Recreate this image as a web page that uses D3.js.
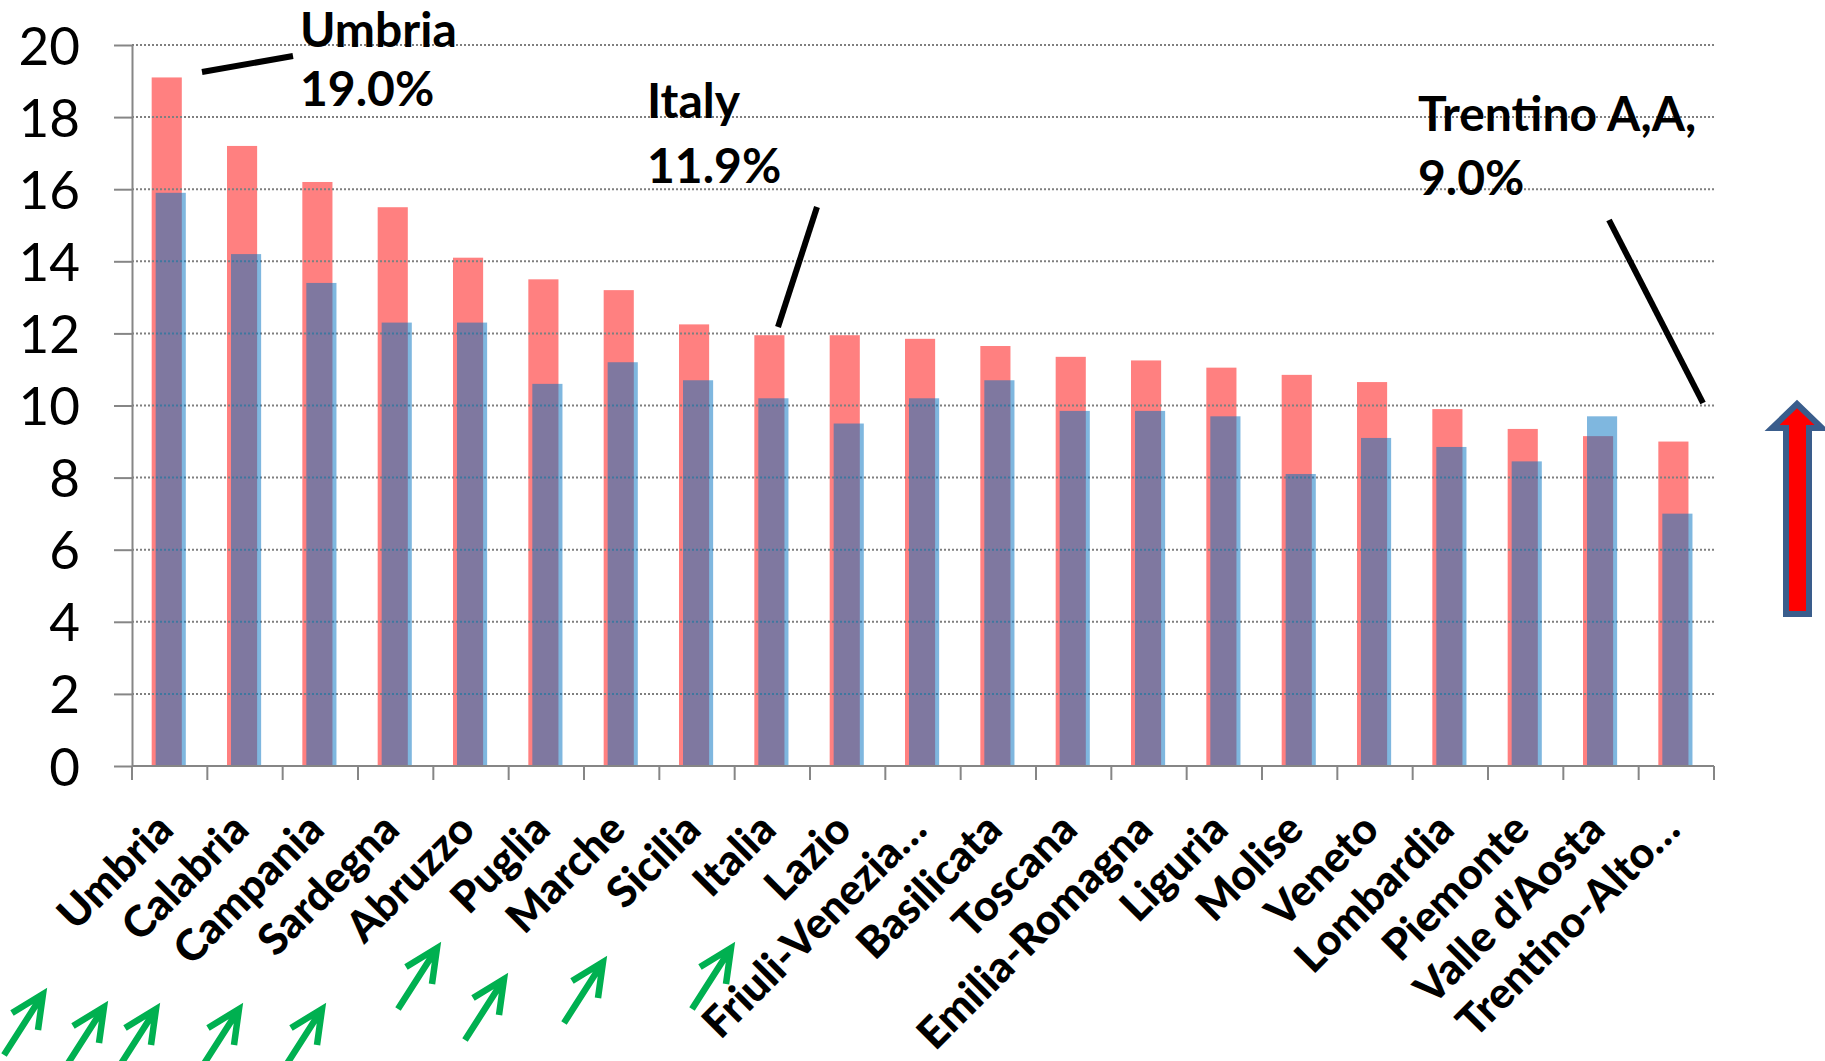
<!DOCTYPE html>
<html>
<head>
<meta charset="utf-8">
<script src="https://cdn.jsdelivr.net/npm/d3@7"></script>
<style>
  body { margin: 0; background: #fff; }
  #graf text { font-family: Lato, "Open Sans", sans-serif; }
</style>
</head>
<body>
<div id="graf"></div>
<script>
// Regiones (eje x)
const regiones = ["Umbria", "Calabria", "Campania", "Sardegna", "Abruzzo", "Puglia", "Marche", "Sicilia", "Italia", "Lazio", "Friuli-Venezia…", "Basilicata", "Toscana", "Emilia-Romagna", "Liguria", "Molise", "Veneto", "Lombardia", "Piemonte", "Valle d'Aosta", "Trentino-Alto…"]

// Serie roja (detrás)
const serieRoja = [19.1, 17.2, 16.2, 15.5, 14.1, 13.5, 13.2, 12.25, 11.95, 11.95, 11.85, 11.65, 11.35, 11.25, 11.05, 10.85, 10.65, 9.9, 9.35, 9.15, 9.0]

// Serie azul (delante, transparente)
const serieAzul = [15.9, 14.2, 13.4, 12.3, 12.3, 10.6, 11.2, 10.7, 10.2, 9.5, 10.2, 10.7, 9.85, 9.85, 9.7, 8.1, 9.1, 8.85, 8.45, 9.7, 7.0]

// Etiquetas eje y
const ticksY = [0, 2, 4, 6, 8, 10, 12, 14, 16, 18, 20]

// Notas con texto y línea
const notas = [
  { lineas: ["Umbria", "19.0%"], x: 300, y: 47, paso: 59, desde: [293, 56], hasta: [202, 72] },
  { lineas: ["Italy", "11.9%"], x: 647, y: 118, paso: 65, desde: [817, 207], hasta: [778, 327] },
  { lineas: ["Trentino A,A,", "9.0%"], x: 1418, y: 131, paso: 64, desde: [1609, 220], hasta: [1703, 403] }
]

// Flechas verdes (punta)
const flechasVerdes = [[43, 994], [104, 1007], [156, 1009], [239, 1009], [322, 1009], [437, 948], [504, 979], [603, 962], [731, 948]]

const draw = () => {
  const anchoTotal = 1825
  const altoTotal = 1061

  const svg = d3.select("#graf")
    .append("svg")
    .attr("width", anchoTotal)
    .attr("height", altoTotal)

  // Escaladores
  const x = d3.scaleBand()
    .domain(regiones)
    .range([132, 1714])

  const y = d3.scaleLinear()
    .domain([0, 20])
    .range([766, 45])

  const anchoBarra = x.bandwidth() * 0.4
  const centro = (d) => x(d) + x.bandwidth() / 2

  // Barras rojas
  svg.append("g")
    .selectAll("rect")
    .data(regiones)
    .join("rect")
    .attr("x", (d) => centro(d) - 18)
    .attr("y", (d, i) => y(serieRoja[i]))
    .attr("width", anchoBarra)
    .attr("height", (d, i) => y(0) - y(serieRoja[i]))
    .attr("fill", "#FF8080")

  // Líneas de cuadrícula
  svg.append("g")
    .selectAll("line")
    .data(ticksY.filter((t) => t > 0))
    .join("line")
    .attr("x1", x.range()[0])
    .attr("x2", x.range()[1])
    .attr("y1", (d) => y(d))
    .attr("y2", (d) => y(d))
    .attr("stroke", "#7F7F7F")
    .attr("stroke-width", 2)
    .attr("stroke-dasharray", "2,2")

  // Barras azules
  svg.append("g")
    .selectAll("rect")
    .data(regiones)
    .join("rect")
    .attr("x", (d) => centro(d) - 14)
    .attr("y", (d, i) => y(serieAzul[i]))
    .attr("width", anchoBarra)
    .attr("height", (d, i) => y(0) - y(serieAzul[i]))
    .attr("fill", "rgba(0,112,192,0.5)")

  // Eje y
  const yAxisGroup = svg.append("g")
    .attr("transform", `translate(${x.range()[0]}, 0)`)
    .call(d3.axisLeft(y).tickValues(ticksY).tickSize(18).tickSizeOuter(0).tickPadding(34))

  yAxisGroup.selectAll("path, line")
    .attr("stroke", "#868686")
    .attr("stroke-width", 2)

  yAxisGroup.selectAll("text")
    .attr("font-size", 53)
    .attr("fill", "#000")
    .attr("dy", "0.36em")

  // Eje x
  const xAxisGroup = svg.append("g")

  xAxisGroup.append("line")
    .attr("x1", x.range()[0])
    .attr("x2", x.range()[1])
    .attr("y1", y(0))
    .attr("y2", y(0))
    .attr("stroke", "#868686")
    .attr("stroke-width", 2)

  xAxisGroup.selectAll(".tick")
    .data(d3.range(regiones.length + 1))
    .join("line")
    .attr("class", "tick")
    .attr("x1", (i) => x.range()[0] + i * x.step())
    .attr("x2", (i) => x.range()[0] + i * x.step())
    .attr("y1", y(0))
    .attr("y2", y(0) + 14)
    .attr("stroke", "#868686")
    .attr("stroke-width", 2)

  xAxisGroup.selectAll("text")
    .data(regiones)
    .join("text")
    .attr("transform", (d) => `translate(${centro(d) + 6}, 832) rotate(-45)`)
    .attr("text-anchor", "end")
    .attr("font-size", 43)
    .attr("font-weight", 900)
    .text((d) => d)

  // Notas
  const grupoNotas = svg.append("g")

  notas.forEach((n) => {
    grupoNotas.append("line")
      .attr("x1", n.desde[0])
      .attr("y1", n.desde[1])
      .attr("x2", n.hasta[0])
      .attr("y2", n.hasta[1])
      .attr("stroke", "#000")
      .attr("stroke-width", 6)

    grupoNotas.selectAll(null)
      .data(n.lineas)
      .join("text")
      .attr("x", n.x)
      .attr("y", (d, i) => n.y + i * n.paso)
      .attr("font-size", 48)
      .attr("font-weight", "bold")
      .text((d) => d)
  })

  // Flechas verdes
  svg.append("g")
    .selectAll("path")
    .data(flechasVerdes)
    .join("path")
    .attr("d", (p) => `M${p[0] - 39},${p[1] + 61} L${p[0]},${p[1]} M${p[0] - 31},${p[1] + 19} L${p[0]},${p[1]} L${p[0] - 5},${p[1] + 36}`)
    .attr("fill", "none")
    .attr("stroke", "#00B050")
    .attr("stroke-width", 6.5)
    .attr("stroke-linejoin", "miter")

  // Flecha roja a la derecha
  svg.append("path")
    .attr("d", "M1797,404 L1822,428 L1809,428 L1809,614 L1786,614 L1786,428 L1772,428 Z")
    .attr("fill", "#FF0000")
    .attr("stroke", "#3A5D8C")
    .attr("stroke-width", 6)
}

draw()
</script>
</body>
</html>
